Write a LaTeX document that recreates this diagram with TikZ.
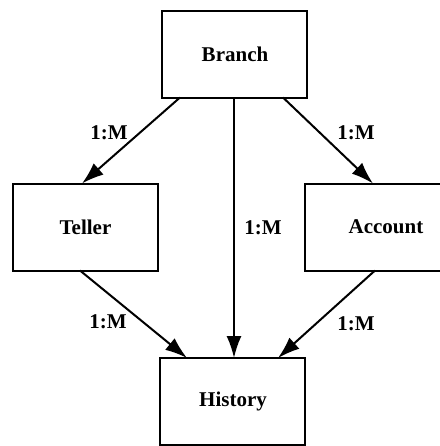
\documentclass[tikz,border=0pt]{standalone}
\usepackage{fontspec}
\setmainfont{Liberation Serif}
\usetikzlibrary{arrows.meta,positioning,calc}
\tikzset{
  entity/.style={draw, line width=1pt, minimum width=72.5pt, minimum height=43.5pt,
    inner sep=0pt, outer sep=0pt, align=center, font=\fontsize{10.5}{12}\selectfont\bfseries},
  widebox/.style={entity, minimum width=81pt},
  rel/.style={-{Latex[length=11pt,width=7.5pt]}, line width=1pt},
  card/.style={font=\fontsize{10.5}{12}\selectfont\bfseries, inner sep=0pt}
}
\begin{document}
\begin{tikzpicture}[x=0.5pt,y=-0.5pt]
  \useasboundingbox (0,0) rectangle (440,446);
  \clip (0,0) rectangle (440,446);
  \fill[white] (0,0) rectangle (440,446);
  % entities
  \node[entity] (branch) at (235,54) {Branch};
  \node[entity] (teller) at (85.5,227) {Teller};
  \node[widebox] (account) at (386,227) {Account};
  \node[entity] (history) at (233,401.5) {History};
  % relationships
  \draw[rel] ([xshift=-27.5pt]branch.south) -- ([xshift=-1.75pt]teller.north);
  \draw[rel] ([xshift=24pt]branch.south) -- ([xshift=-6.5pt]account.north);
  \draw[rel] ([xshift=-0.5pt]branch.south) -- ([xshift=0.5pt]history.north);
  \draw[rel] ([xshift=-2.75pt]teller.south) -- ([xshift=-23pt]history.north);
  \draw[rel] ([xshift=-5.5pt]account.south) -- ([xshift=22.5pt]history.north);
  % cardinalities
  \node[card] (c1) at (109,133) {1:M};
  \node[card] (c2) at (356,133) {1:M};
  \node[card] (c3) at (263,228) {1:M};
  \node[card] (c4) at (108,322) {1:M};
  \node[card] (c5) at (356,324) {1:M};
\end{tikzpicture}
\end{document}
